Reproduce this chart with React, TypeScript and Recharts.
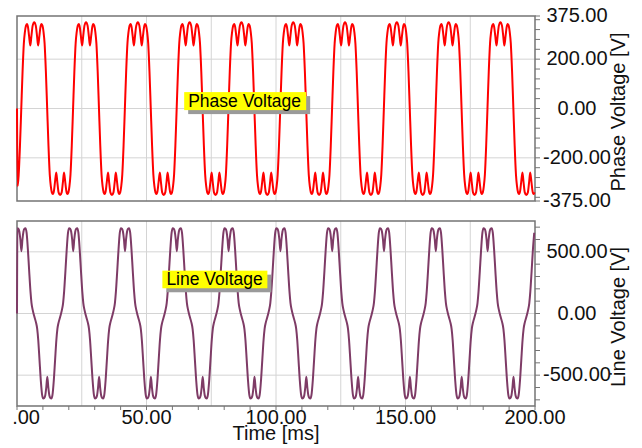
import { LineChart, Line, XAxis, YAxis, CartesianGrid, ReferenceArea, ReferenceDot } from 'recharts';

const FONT = '"Liberation Sans", Arial, sans-serif';

// one cycle of the phase voltage, ms after each rising zero crossing
const phaseCycleMs = [0, 0.5, 1.0, 1.4, 1.8, 2.2, 2.6, 3.0, 3.5, 3.9, 4.4, 5.0, 5.6, 6.1, 6.5, 7.0, 7.4, 7.8, 8.2, 8.6, 9.0, 9.5,
  10, 10.5, 11.0, 11.4, 11.8, 12.2, 12.6, 13.0, 13.5, 13.9, 14.4, 15.0, 15.6, 16.1, 16.5, 17.0, 17.4, 17.8, 18.2, 18.6, 19.0, 19.5];
const phaseCycleV = [0, 150, 265, 310, 335, 343, 330, 295, 255, 292, 336, 350, 336, 292, 255, 295, 330, 343, 335, 310, 265, 150,
  0, -150, -268, -315, -340, -347, -335, -300, -259, -296, -340, -351, -340, -296, -259, -300, -335, -347, -340, -315, -268, -150];
const phaseCycleStarts = [-18.35, 1.65, 21.65, 41.65, 61.65, 81.65, 101.65, 121.65, 141.65, 161.65, 181.65];

// one cycle of the line voltage, ms after each upper notch
const lineCycleMs = [0, 0.4, 0.8, 1.2, 1.55, 2.0, 2.5, 3.0, 3.5, 3.9, 4.4, 5.0, 5.6, 6.1, 6.5, 7.0, 7.5, 8.0, 8.45, 8.8, 9.2, 9.6,
  10, 10.4, 10.8, 11.2, 11.55, 12.0, 12.5, 13.0, 13.5, 13.9, 14.4, 15.0, 15.6, 16.1, 16.5, 17.0, 17.5, 18.0, 18.45, 18.8, 19.2, 19.6];
const lineCycleV = [505, 600, 665, 688, 692, 655, 520, 345, 180, 85, 25, -25, -70, -125, -215, -380, -545, -660, -690, -686, -665, -600,
  -512, -600, -665, -686, -690, -660, -545, -380, -215, -125, -70, -25, 25, 85, 180, 345, 520, 655, 692, 688, 665, 600];
const lineCycleStarts = [-18.3, 1.7, 21.7, 41.7, 61.7, 81.7, 101.7, 121.7, 141.7, 161.7, 181.7];

const startValue = 0;
const timeEnd = 200;

const timeTicks = [0, 10, 20, 30, 40, 50, 60, 70, 80, 90, 100, 110, 120, 130, 140, 150, 160, 170, 180, 190, 200];
const timeLabels = [0, 50, 100, 150, 200];
const timeGrid = [25, 50, 75, 100, 125, 150, 175];

const phaseTicks = [-375, -360, -320, -280, -240, -200, -160, -120, -80, -40, 0, 40, 80, 120, 160, 200, 240, 280, 320, 360, 375];
const phaseLabels = [375, 200, 0, -200, -375];
const phaseGrid = [-200, 0, 200];

const lineTicks = [-700, -600, -500, -400, -300, -200, -100, 0, 100, 200, 300, 400, 500, 600, 700];
const lineLabels = [500, 0, -500];
const lineGrid = [-500, 0, 500];

function buildSeries(starts: number[], offsets: number[], values: number[]) {
  const rows: { t: number; v: number }[] = [{ t: 0, v: startValue }];
  starts.forEach((s) => {
    offsets.forEach((o, i) => {
      const t = Math.round((s + o) * 100) / 100;
      if (t > 0 && t <= timeEnd) rows.push({ t, v: values[i] });
    });
  });
  return rows.sort((a, b) => a.t - b.t);
}

const phaseData = buildSeries(phaseCycleStarts, phaseCycleMs, phaseCycleV);
const lineData = buildSeries(lineCycleStarts, lineCycleMs, lineCycleV);

const rightTick = (labels: number[]) => (props: any) => {
  const { x, y, payload } = props;
  if (!labels.includes(payload.value)) return <g />;
  return (
    <text x={x + 35} y={y - 1} textAnchor="middle" dominantBaseline="central" fontSize={20} fontFamily={FONT} fill="#111">
      {payload.value.toFixed(2)}
    </text>
  );
};

const timeTick = (props: any) => {
  const { x, y, payload } = props;
  if (!timeLabels.includes(payload.value)) return <g />;
  return (
    <text x={x + (payload.value === 0 ? 3.5 : 0)} y={y + 12} textAnchor="middle" fontSize={20} fontFamily={FONT} fill="#111">
      {payload.value.toFixed(2)}
    </text>
  );
};

const yTitle = (text: string) => (props: any) => {
  const vb = props.viewBox || { x: 0, y: 0, width: 0, height: 0 };
  const x = vb.x + 90;
  const y = vb.y + vb.height / 2 + 3.5;
  return (
    <text x={x} y={y} transform={`rotate(-90, ${x}, ${y})`} textAnchor="middle" fontSize={20} fontFamily={FONT} fill="#111">
      {text}
    </text>
  );
};

const timeTitle = (props: any) => {
  const vb = props.viewBox || { x: 0, y: 0, width: 0, height: 0 };
  return (
    <text x={vb.x + vb.width / 2} y={vb.y + 33.5} textAnchor="middle" fontSize={20} fontFamily={FONT} fill="#111">
      Time [ms]
    </text>
  );
};

const noteBox = (text: string, w: number, h: number) => (props: any) => {
  const { cx, cy } = props;
  return (
    <g>
      <rect x={cx - w / 2 + 4} y={cy - h / 2 + 4} width={w} height={h} fill="#9a9a9a" />
      <rect x={cx - w / 2} y={cy - h / 2} width={w} height={h} fill="#ffff00" />
      <text x={cx - w / 2 + 4} y={cy + 5.5} fontSize={17.5} fontFamily={FONT} fill="#000">
        {text}
      </text>
    </g>
  );
};

const BORDER = '#747474';
const GRID = '#d4d4d4';

export default function App() {
  return (
    <div style={{ position: 'fixed', left: 0, top: 0, width: 642, height: 448, background: '#fff' }}>
      <div style={{ position: 'absolute', left: 12, top: 0, width: 630, height: 211, overflow: 'hidden' }}>
        <LineChart width={630} height={211} data={phaseData} margin={{ top: 16, right: 0, bottom: 10, left: 5 }}>
          <CartesianGrid stroke={GRID} horizontalValues={phaseGrid} verticalValues={timeGrid} />
          <XAxis dataKey="t" type="number" domain={[0, timeEnd]} ticks={timeTicks} hide />
          <YAxis
            orientation="right"
            type="number"
            domain={[-375, 375]}
            ticks={phaseTicks}
            interval={0}
            width={107}
            axisLine={false}
            tickLine={{ stroke: BORDER }}
            tickSize={5}
            tickMargin={2}
            tick={rightTick(phaseLabels)}
            label={yTitle('Phase Voltage [V]')}
          />
          <ReferenceArea x1={0} x2={timeEnd} y1={-375} y2={375} fill="none" stroke={BORDER} strokeWidth={1.5} />
          <Line type="monotone" dataKey="v" stroke="#ff0000" strokeWidth={2} dot={false} isAnimationActive={false} />
          <ReferenceDot x={88.1} y={30} r={0} shape={noteBox('Phase Voltage', 122, 18)} />
        </LineChart>
      </div>
      <div style={{ position: 'absolute', left: 12, top: 211, width: 630, height: 237, overflow: 'hidden' }}>
        <LineChart width={630} height={237} data={lineData} margin={{ top: 10, right: 0, bottom: 0, left: 5 }}>
          <CartesianGrid stroke={GRID} horizontalValues={lineGrid} verticalValues={timeGrid} />
          <XAxis
            dataKey="t"
            type="number"
            domain={[0, timeEnd]}
            ticks={timeTicks}
            interval={0}
            height={42}
            axisLine={false}
            tickLine={{ stroke: BORDER }}
            tickSize={4}
            tickMargin={2}
            tick={timeTick}
            label={timeTitle}
          />
          <YAxis
            orientation="right"
            type="number"
            domain={[-750, 750]}
            ticks={lineTicks}
            interval={0}
            width={107}
            axisLine={false}
            tickLine={{ stroke: BORDER }}
            tickSize={5}
            tickMargin={2}
            tick={rightTick(lineLabels)}
            label={yTitle('Line Voltage [V]')}
          />
          <ReferenceArea x1={0} x2={timeEnd} y1={-750} y2={750} fill="none" stroke={BORDER} strokeWidth={1.5} />
          <Line type="monotone" dataKey="v" stroke="#7e3b66" strokeWidth={2} dot={false} isAnimationActive={false} />
          <ReferenceDot x={76.4} y={276} r={0} shape={noteBox('Line Voltage', 105, 17.6)} />
        </LineChart>
      </div>
    </div>
  );
}
